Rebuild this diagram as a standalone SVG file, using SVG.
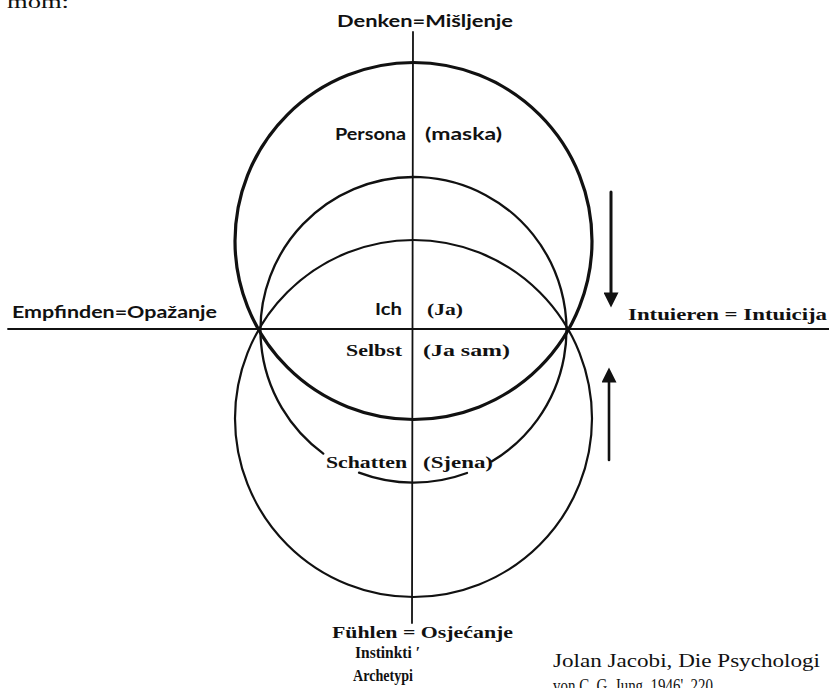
<svg xmlns="http://www.w3.org/2000/svg" width="829" height="688" viewBox="0 0 829 688">
<defs>
<style>
.ln{fill:none;stroke:#111;stroke-linecap:round}
.ax{stroke-width:1.8}
.sf{font-family:"Liberation Serif","DejaVu Serif",serif;font-weight:bold;font-size:17px;fill:#111}
.sr{font-family:"Liberation Serif","DejaVu Serif",serif;font-size:18px;fill:#111}
.ss{font-family:Lato,"Open Sans","Liberation Sans",sans-serif;font-weight:bold;font-size:17px;fill:#111}
</style>
<marker id="ah" viewBox="0 0 10 10" refX="1" refY="5" markerUnits="userSpaceOnUse" markerWidth="16" markerHeight="15" orient="auto">
<path d="M0,0 L10,5 L0,10 z" fill="#111"/>
</marker>
</defs>
<rect width="829" height="688" fill="#fff"/>
<text class="sr" x="7" y="8" textLength="62" lengthAdjust="spacingAndGlyphs">mom:</text>

<g id="axes">
<line class="ln ax" x1="413" y1="32" x2="412" y2="623"/>
<line class="ln ax" x1="8" y1="329" x2="829" y2="329"/>
</g>

<g id="circles">
<circle id="c-upper" class="ln" cx="413.5" cy="241" r="178.5" stroke-width="3.2"/>
<circle id="c-lower" class="ln" cx="413.5" cy="418.5" r="178.5" stroke-width="2.2"/>
<g id="c-middle">
<path class="ln" stroke-width="2.3" d="M323.3 453.6 A153 153 0 1 1 492 461.3"/>
<path class="ln" stroke-width="2.3" d="M359 472.6 A153 153 0 0 0 467 473"/>
</g>
</g>

<g id="connectors">
<line class="ln" stroke-width="3" x1="611" y1="192" x2="611" y2="294" marker-end="url(#ah)"/>
<line class="ln" stroke-width="2.6" x1="609" y1="460" x2="609" y2="381" marker-end="url(#ah)"/>
</g>

<g id="n-denken"><text class="ss" x="337" y="27" textLength="176" lengthAdjust="spacingAndGlyphs">Denken=Mišljenje</text></g>
<g id="n-persona">
<text class="ss" x="335" y="140" textLength="71" lengthAdjust="spacingAndGlyphs">Persona</text>
<text class="ss" x="425" y="140" textLength="77" lengthAdjust="spacingAndGlyphs">(maska)</text>
</g>
<g id="n-ich">
<text class="ss" x="375" y="315" textLength="27" lengthAdjust="spacingAndGlyphs">Ich</text>
<text class="sf" x="427" y="315" textLength="36" lengthAdjust="spacingAndGlyphs">(Ja)</text>
</g>
<g id="n-selbst">
<text class="sf" x="346" y="356" textLength="56" lengthAdjust="spacingAndGlyphs">Selbst</text>
<text class="sf" x="423" y="356" textLength="87" lengthAdjust="spacingAndGlyphs">(Ja sam)</text>
</g>
<g id="n-schatten">
<text class="sf" x="326" y="468" textLength="81" lengthAdjust="spacingAndGlyphs">Schatten</text>
<text class="sf" x="423" y="468" textLength="70" lengthAdjust="spacingAndGlyphs">(Sjena)</text>
</g>
<g id="n-empfinden"><text class="ss" x="12" y="318" textLength="205" lengthAdjust="spacingAndGlyphs">Empfinden=Opažanje</text></g>
<g id="n-intuieren"><text class="sf" x="628" y="320" textLength="199" lengthAdjust="spacingAndGlyphs">Intuieren = Intuicija</text></g>
<g id="n-fuehlen">
<text class="sf" x="332" y="638" textLength="181" lengthAdjust="spacingAndGlyphs">Fühlen = Osjećanje</text>
<text class="sf" x="355" y="658" textLength="65" lengthAdjust="spacingAndGlyphs">Instinkti ′</text>
<text class="sf" x="353" y="681" textLength="60" lengthAdjust="spacingAndGlyphs">Archetypi</text>
</g>
<g id="source">
<text class="sr" x="553" y="667" textLength="267" lengthAdjust="spacingAndGlyphs">Jolan Jacobi, Die Psychologi</text>
<text class="sr" x="553" y="692" textLength="160" lengthAdjust="spacingAndGlyphs">von C. G. Jung, 1946', 220</text>
</g>
</svg>
